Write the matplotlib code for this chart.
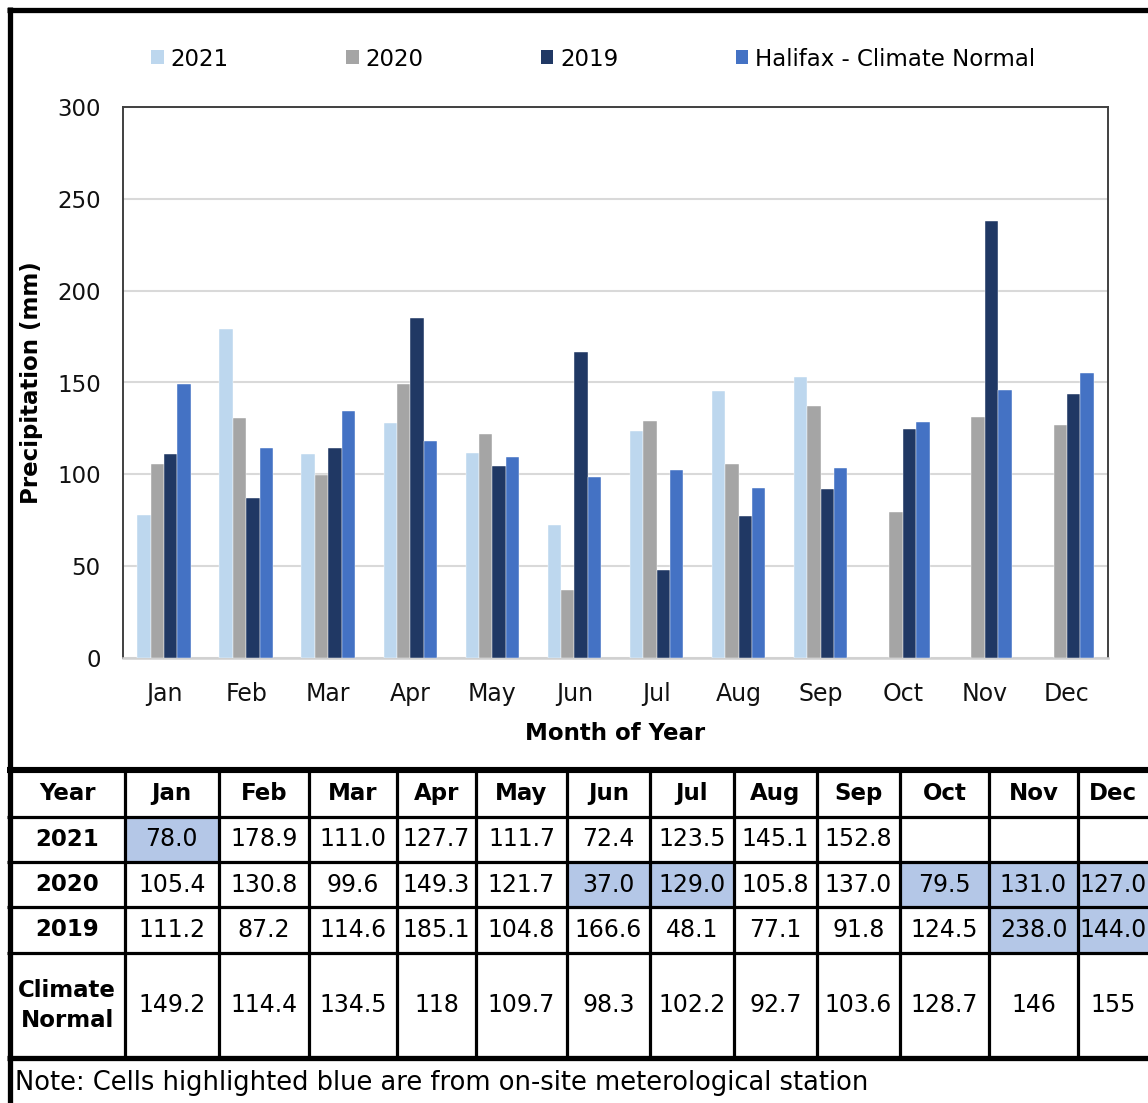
import numpy as np
import matplotlib
matplotlib.use("Agg")
import matplotlib.pyplot as plt
from matplotlib.patches import Patch, Rectangle

plt.rcParams["font.family"] = ["DejaVu Sans"]

# ---- data -------------------------------------------------------------
months = ["Jan", "Feb", "Mar", "Apr", "May", "Jun",
          "Jul", "Aug", "Sep", "Oct", "Nov", "Dec"]
p2021 = [78.0, 178.9, 111.0, 127.7, 111.7, 72.4, 123.5, 145.1, 152.8,
         np.nan, np.nan, np.nan]
p2020 = [105.4, 130.8, 99.6, 149.3, 121.7, 37.0, 129.0, 105.8, 137.0,
         79.5, 131.0, 127.0]
p2019 = [111.2, 87.2, 114.6, 185.1, 104.8, 166.6, 48.1, 77.1, 91.8,
         124.5, 238.0, 144.0]
normal = [149.2, 114.4, 134.5, 118, 109.7, 98.3, 102.2, 92.7, 103.6,
          128.7, 146, 155]
series_names = ["2021", "2020", "2019", "Halifax - Climate Normal"]
row_names = ["2021", "2020", "2019", "Climate\nNormal"]
# cells measured at the on-site station: (row, month index)
station_cells = [(0, 0), (1, 5), (1, 6), (1, 9), (1, 10), (1, 11),
                 (2, 10), (2, 11)]
note = "Note: Cells highlighted blue are from on-site meterological station"

colors = ["#BDD7EE", "#A5A5A5", "#203864", "#4472C4"]
highlight = "#B4C7E7"

W, H = 1148, 1103
fig = plt.figure(figsize=(W / 100, H / 100), dpi=100)


def ax_rect(x0, y0, x1, y1):
    return [x0 / W, 1 - y1 / H, (x1 - x0) / W, (y1 - y0) / H]


# ---- bar chart --------------------------------------------------------
ax = fig.add_axes(ax_rect(123, 107, 1108, 658))
x = np.arange(len(months))
bw = 0.163
for i, (vals, c) in enumerate(zip([p2021, p2020, p2019, normal], colors)):
    v = np.asarray(vals, dtype=float)
    ok = np.isfinite(v)
    ax.bar(x[ok] + (i - 1.5) * bw, v[ok], width=bw, color=c,
           edgecolor="white", linewidth=0.3, zorder=3)

ax.set_xlim(-0.5, 11.5)
ax.set_ylim(0, 300)
ax.set_yticks(range(0, 301, 50))
ax.set_xticks(x)
ax.set_xticklabels(months)
ax.tick_params(axis="both", length=0, labelsize=16.5, colors="#111111")
ax.tick_params(axis="x", labelsize=17)
ax.tick_params(axis="y", pad=16)
ax.tick_params(axis="x", pad=17)
ax.yaxis.grid(True, color="#D9D9D9", linewidth=1.5, zorder=0)
ax.set_axisbelow(True)
for s in ["left", "top", "right"]:
    ax.spines[s].set_color("#404040")
    ax.spines[s].set_linewidth(1.4)
ax.spines["bottom"].set_color("#D0D0D0")
ax.spines["bottom"].set_linewidth(1.8)

ax.set_xlabel("Month of Year", fontsize=16.5, fontweight="bold", labelpad=12)
ax.set_ylabel("Precipitation (mm)", fontsize=16.5, fontweight="bold",
              labelpad=10)

handles = [Patch(facecolor=c, edgecolor="none") for c in colors]
fig.legend(handles, series_names, loc="center left",
           bbox_to_anchor=(151 / W, 1 - 59 / H), ncol=4, frameon=False,
           fontsize=16.5, handlelength=0.55, handleheight=0.55,
           handletextpad=0.3, columnspacing=5.12, borderpad=0,
           borderaxespad=0)

# ---- frame and data table --------------------------------------------
ov = fig.add_axes([0, 0, 1, 1], zorder=5)
ov.set_xlim(0, W)
ov.set_ylim(H, 0)
ov.axis("off")
ov.patch.set_alpha(0)

col_edges = [10, 124.5, 219, 309, 397, 476, 567, 650, 734, 817, 900,
             989, 1078, 1168]
row_edges = [770, 817, 862, 907, 953, 1058]

# station highlights
for r, m in station_cells:
    ov.add_patch(Rectangle((col_edges[m + 1], row_edges[r + 1]),
                           col_edges[m + 2] - col_edges[m + 1],
                           row_edges[r + 2] - row_edges[r + 1],
                           facecolor=highlight, edgecolor="none"))

thin = 2.3
thick = 3.8
# outer border
ov.plot([9.5, 9.5], [7, H], color="black", lw=thick, solid_capstyle="butt")
ov.plot([7, W], [9.5, 9.5], color="black", lw=thick, solid_capstyle="butt")
# table horizontal rules
ov.plot([7, W], [row_edges[0], row_edges[0]], color="black", lw=thick + 0.6,
        solid_capstyle="butt")
for yy in row_edges[1:-1]:
    ov.plot([7, W], [yy, yy], color="black", lw=thin, solid_capstyle="butt")
ov.plot([7, W], [row_edges[-1], row_edges[-1]], color="black", lw=thick,
        solid_capstyle="butt")
# table vertical rules
for xx in col_edges[1:-1]:
    ov.plot([xx, xx], [row_edges[0], row_edges[-1]], color="black", lw=thin,
            solid_capstyle="butt")

centers_x = [(a + b) / 2 for a, b in zip(col_edges[:-1], col_edges[1:])]
centers_x[-1] = 1113  # last column runs past the page edge
centers_y = [(a + b) / 2 for a, b in zip(row_edges[:-1], row_edges[1:])]

fs = 17
fsb = 16.5
ov.text(centers_x[0], centers_y[0], "Year", ha="center", va="center",
        fontsize=fsb, fontweight="bold")
for j, m in enumerate(months):
    ov.text(centers_x[j + 1], centers_y[0], m, ha="center", va="center",
            fontsize=fsb, fontweight="bold")

rows = [p2021, p2020, p2019, normal]
for r, (name, vals) in enumerate(zip(row_names, rows)):
    ov.text(centers_x[0], centers_y[r + 1], name, ha="center", va="center",
            fontsize=fsb, fontweight="bold", linespacing=1.35)
    for j, v in enumerate(vals):
        if not np.isfinite(v):
            continue
        label = f"{v:g}" if r == 3 else f"{v:.1f}"
        ov.text(centers_x[j + 1], centers_y[r + 1], label, ha="center",
                va="center", fontsize=fs)

ov.text(15, 1083, note, ha="left", va="center", fontsize=18.5)

fig.savefig("out.png", dpi=100)
